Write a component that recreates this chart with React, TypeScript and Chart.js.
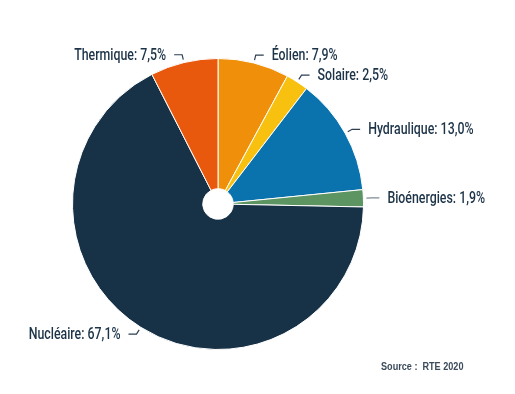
import React, { useEffect, useRef } from "react";
import { Chart, registerables } from "chart.js";

Chart.register(...registerables);

const categories = ["Éolien", "Solaire", "Hydraulique", "Bioénergies", "Nucléaire", "Thermique"];
const shares = [7.9, 2.5, 13.0, 1.9, 67.1, 7.5];
const shareLabels = ["7,9%", "2,5%", "13,0%", "1,9%", "67,1%", "7,5%"];
const colors = ["#f0900a", "#f8c10f", "#0a72ac", "#5c9462", "#173246", "#e8590d"];
const sourceText = "Source :  RTE 2020";

const LABEL_FONT = '500 16px "Roboto", "DejaVu Sans", sans-serif';
const TEXT_COLOR = "#1c3348";

function condensedText(ctx: any, text: string, x: number, y: number, align: string, sx: number) {
  ctx.save();
  ctx.translate(x, y);
  ctx.scale(sx, 1);
  ctx.textAlign = align;
  ctx.fillText(text, 0, 0);
  ctx.restore();
}

const labelPlugin = {
  id: "pieLabels",
  afterDraw(chart: any) {
    const ctx = chart.ctx;
    const meta = chart.getDatasetMeta(0);
    ctx.save();
    ctx.font = LABEL_FONT;
    ctx.textBaseline = "middle";
    const ref = ctx.measureText("Thermique: 7,5%").width;
    const sx = 92 / ref;
    meta.data.forEach((arc: any, i: number) => {
      const p = arc.getProps(["x", "y", "startAngle", "endAngle", "outerRadius"], true);
      const mid = (p.startAngle + p.endAngle) / 2;
      const c = Math.cos(mid);
      const s = Math.sin(mid);
      const r1 = p.outerRadius + 3;
      const r2 = p.outerRadius + 8;
      const x1 = p.x + c * r1;
      const y1 = p.y + s * r1;
      const x2 = p.x + c * r2;
      const y2 = p.y + s * r2;
      const right = c >= 0;
      const dir = right ? 1 : -1;
      const x3 = x2 + dir * 8;
      ctx.strokeStyle = i === 3 ? "#7d8b97" : "#2d3f52";
      ctx.lineWidth = 1.2;
      ctx.beginPath();
      ctx.moveTo(x1, y1);
      ctx.lineTo(x2, y2);
      ctx.lineTo(x3, y2);
      ctx.stroke();
      ctx.fillStyle = TEXT_COLOR;
      condensedText(ctx, categories[i] + ": " + shareLabels[i], x3 + dir * 8, y2 + 1, right ? "left" : "right", sx);
    });
    ctx.font = 'bold 10px "Liberation Sans", "DejaVu Sans", sans-serif';
    ctx.fillStyle = "#3b4b5b";
    condensedText(ctx, sourceText, 381, 367, "left", 0.91);
    ctx.restore();
  },
};

export default function App() {
  const ref = useRef<HTMLCanvasElement | null>(null);
  useEffect(() => {
    if (!ref.current) return;
    const chart = new Chart(ref.current, {
      type: "doughnut",
      data: {
        labels: categories,
        datasets: [
          {
            data: shares,
            backgroundColor: colors,
            borderColor: "#ffffff",
            borderWidth: 1,
          },
        ],
      },
      options: {
        responsive: false,
        animation: false,
        cutout: "10.5%",
        layout: { padding: { left: 72, top: 58, right: 151, bottom: 44 } },
        plugins: {
          legend: { display: false },
          tooltip: { enabled: false },
        },
      },
      plugins: [labelPlugin],
    });
    return () => chart.destroy();
  }, []);
  return (
    <div style={{ position: "absolute", left: 0, top: 0, width: 515, height: 394, background: "#fff" }}>
      <canvas ref={ref} width={515} height={394} />
    </div>
  );
}
